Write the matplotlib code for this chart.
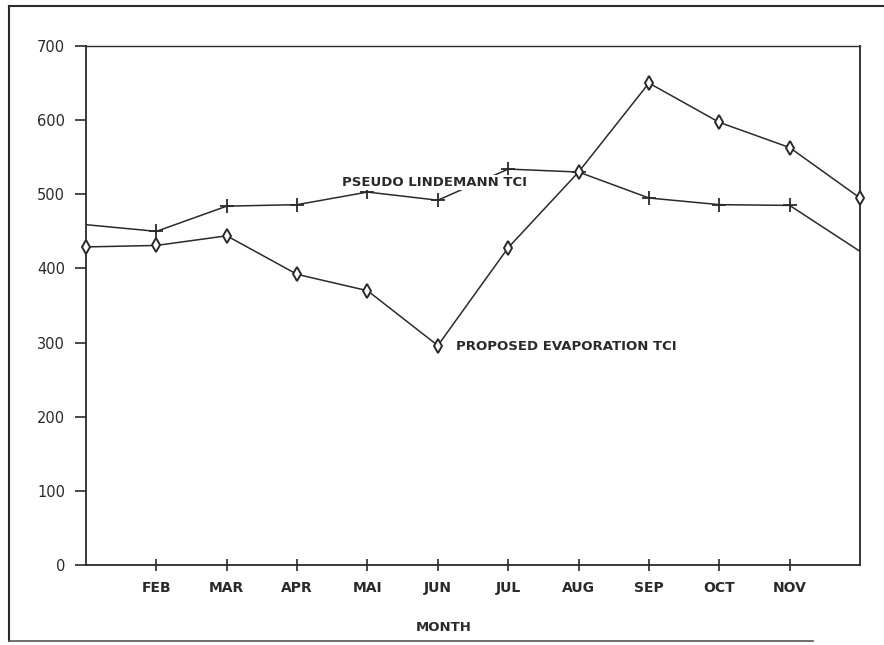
import matplotlib
matplotlib.use("Agg")
import matplotlib.pyplot as plt
from matplotlib.lines import Line2D

# ---- data ----
month_num = [1, 2, 3, 4, 5, 6, 7, 8, 9, 10, 11, 12]
tick_months = [2, 3, 4, 5, 6, 7, 8, 9, 10, 11]
tick_labels = ["FEB", "MAR", "APR", "MAI", "JUN", "JUL", "AUG", "SEP", "OCT", "NOV"]
evaporation_tci = [429, 431, 444, 392, 370, 296, 428, 530, 650, 597, 563, 495]
lindemann_tci = [459, 450, 484, 486, 503, 492, 534, 530, 495, 486, 485, 423]
y_ticks = [0, 100, 200, 300, 400, 500, 600, 700]

ink = "#2a2a2a"
plt.rcParams['font.family'] = ['DejaVu Sans']

fig = plt.figure(figsize=(8.84, 6.45), dpi=100)
ax = fig.add_axes([0.0973, 0.124, 0.8756, 0.8047])

ax.plot(month_num, lindemann_tci, color=ink, lw=1.1, marker='+', markersize=10,
        mew=1.3, markevery=list(range(1, 11)), zorder=2)
ax.plot(month_num, evaporation_tci, color=ink, lw=1.1, marker='d', markersize=7,
        mew=1.4, markerfacecolor='white', markeredgecolor=ink, zorder=4, clip_on=False)

ax.text(4.64, 516, "PSEUDO LINDEMANN TCI", fontsize=9.5, fontweight='bold', color=ink,
        ha='left', va='center', zorder=3,
        bbox=dict(facecolor='white', edgecolor='none', pad=0.5))
ax.text(6.26, 295, "PROPOSED EVAPORATION TCI", fontsize=9.5, fontweight='bold', color=ink,
        ha='left', va='center', zorder=3)

ax.set_xlim(1, 12)
ax.set_ylim(0, 700)
ax.set_xticks(tick_months)
ax.set_xticklabels(tick_labels, fontsize=10, fontweight='bold', color=ink)
ax.set_yticks(y_ticks)
ax.set_yticklabels([str(v) for v in y_ticks], fontsize=10.5, color=ink)
ax.tick_params(axis='y', direction='out', length=8, width=1.2, pad=7, colors=ink)
ax.tick_params(axis='x', direction='inout', length=9, width=1.2, pad=7, colors=ink)
ax.set_xlabel("MONTH", fontsize=9.5, fontweight='bold', color=ink)
ax.xaxis.set_label_coords(0.4625, -0.108)

for s in ax.spines.values():
    s.set_color(ink)
    s.set_linewidth(1.3)
ax.spines['top'].set_linewidth(1.0)

# outer frame of the scanned page
fig.add_artist(Line2D([0.0102, 0.0102], [0.0062, 0.9907], color=ink, lw=1.5))
fig.add_artist(Line2D([0.0102, 1.0], [0.9907, 0.9907], color=ink, lw=1.5))
fig.add_artist(Line2D([0.0102, 0.92], [0.0062, 0.0062], color="#555555", lw=1.2))

fig.savefig("out.png", dpi=100)
